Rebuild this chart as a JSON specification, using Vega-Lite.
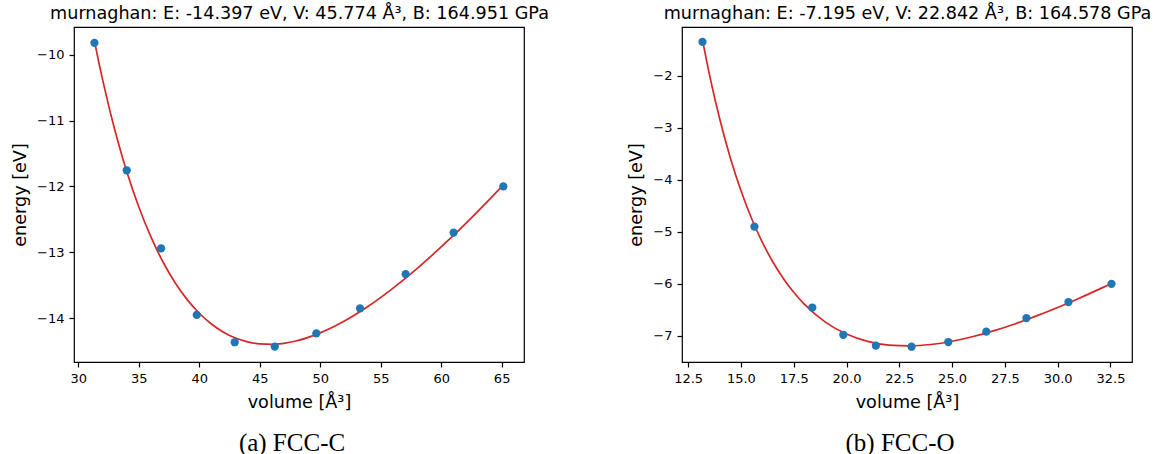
{
  "$schema": "https://vega.github.io/schema/vega-lite/v6.json",
  "padding": {"left": 10, "top": 3, "right": 5, "bottom": 0},
  "background": "white",
  "datasets": {
    "c_pts": [
      {"V": 31.33, "E": -9.82}, {"V": 34.0, "E": -11.755}, {"V": 36.84, "E": -12.94},
      {"V": 39.79, "E": -13.95}, {"V": 42.93, "E": -14.365}, {"V": 46.24, "E": -14.43},
      {"V": 49.68, "E": -14.23}, {"V": 53.29, "E": -13.85}, {"V": 57.06, "E": -13.33},
      {"V": 61.03, "E": -12.7}, {"V": 65.14, "E": -12.0}
    ],
    "c_fit": [
      {"V": 31.33, "E": -9.794}, {"V": 31.7, "E": -10.123}, {"V": 32.0, "E": -10.375},
      {"V": 32.5, "E": -10.769}, {"V": 33.0, "E": -11.131}, {"V": 33.5, "E": -11.465},
      {"V": 34.0, "E": -11.772}, {"V": 35.0, "E": -12.312}, {"V": 36.0, "E": -12.767},
      {"V": 37.0, "E": -13.147}, {"V": 38.0, "E": -13.461}, {"V": 39.0, "E": -13.718},
      {"V": 40.0, "E": -13.925}, {"V": 41.0, "E": -14.088}, {"V": 42.0, "E": -14.212},
      {"V": 43.0, "E": -14.301}, {"V": 44.0, "E": -14.359}, {"V": 45.0, "E": -14.39},
      {"V": 46.0, "E": -14.396}, {"V": 47.0, "E": -14.381}, {"V": 48.0, "E": -14.346},
      {"V": 50.0, "E": -14.223}, {"V": 52.0, "E": -14.043}, {"V": 54.0, "E": -13.815},
      {"V": 56.0, "E": -13.547}, {"V": 58.0, "E": -13.247}, {"V": 60.0, "E": -12.919},
      {"V": 62.0, "E": -12.568}, {"V": 64.0, "E": -12.196}, {"V": 65.14, "E": -11.977}
    ],
    "o_pts": [
      {"V": 13.18, "E": -1.347}, {"V": 15.64, "E": -4.9}, {"V": 18.38, "E": -6.456},
      {"V": 19.85, "E": -6.98}, {"V": 21.39, "E": -7.19}, {"V": 23.08, "E": -7.21},
      {"V": 24.82, "E": -7.12}, {"V": 26.62, "E": -6.92}, {"V": 28.52, "E": -6.66},
      {"V": 30.51, "E": -6.35}, {"V": 32.55, "E": -6.0}
    ],
    "o_fit": [
      {"V": 13.18, "E": -1.309}, {"V": 13.5, "E": -1.956}, {"V": 14.0, "E": -2.836},
      {"V": 14.5, "E": -3.578}, {"V": 15.0, "E": -4.206}, {"V": 15.5, "E": -4.738},
      {"V": 16.0, "E": -5.189}, {"V": 16.5, "E": -5.57}, {"V": 17.0, "E": -5.892},
      {"V": 17.5, "E": -6.163}, {"V": 18.0, "E": -6.391}, {"V": 19.0, "E": -6.736},
      {"V": 20.0, "E": -6.966}, {"V": 21.0, "E": -7.107}, {"V": 22.0, "E": -7.178},
      {"V": 23.0, "E": -7.194}, {"V": 24.0, "E": -7.167}, {"V": 25.0, "E": -7.105},
      {"V": 26.0, "E": -7.014}, {"V": 27.0, "E": -6.9}, {"V": 28.0, "E": -6.767},
      {"V": 29.0, "E": -6.617}, {"V": 30.0, "E": -6.455}, {"V": 31.0, "E": -6.281},
      {"V": 32.0, "E": -6.097}, {"V": 32.55, "E": -5.993}
    ]
  },
  "bounds": "flush",
  "spacing": 158,
  "hconcat": [
    {
      "width": 450,
      "height": 335,
      "title": {"text": "(a) FCC-C", "orient": "bottom", "anchor": "middle", "frame": "group", "dx": -7, "offset": 20},
      "resolve": {"scale": {"x": "independent"}, "axis": {"x": "independent"}},
      "layer": [
        {
          "data": {"name": "c_fit"},
          "mark": {"type": "line", "color": "#d62728", "strokeWidth": 1.7, "interpolate": "monotone"},
          "encoding": {
            "x": {"field": "V", "type": "quantitative",
                  "scale": {"domain": [29.64, 66.85], "nice": false, "zero": false},
                  "axis": {"title": "volume [Å³]", "values": [30, 35, 40, 45, 50, 55, 60, 65], "format": "d"}},
            "y": {"field": "E", "type": "quantitative",
                  "scale": {"domain": [-14.665, -9.58], "nice": false, "zero": false},
                  "axis": {"title": "energy [eV]", "values": [-14, -13, -12, -11, -10], "format": "d"}}
          }
        },
        {
          "data": {"name": "c_pts"},
          "mark": {"type": "point", "filled": true, "color": "#1f77b4", "opacity": 1, "size": 68},
          "encoding": {
            "x": {"field": "V", "type": "quantitative",
                  "scale": {"domain": [29.64, 66.85], "nice": false, "zero": false},
                  "axis": {"orient": "top", "title": "murnaghan: E: -14.397 eV, V: 45.774 Å³, B: 164.951 GPa", "labels": false, "ticks": false, "domain": false, "titlePadding": 5}},
            "y": {"field": "E", "type": "quantitative"}
          }
        }
      ]
    },
    {
      "width": 450,
      "height": 335,
      "title": {"text": "(b) FCC-O", "orient": "bottom", "anchor": "middle", "frame": "group", "dx": -7, "offset": 20},
      "resolve": {"scale": {"x": "independent"}, "axis": {"x": "independent"}},
      "layer": [
        {
          "data": {"name": "o_fit"},
          "mark": {"type": "line", "color": "#d62728", "strokeWidth": 1.7, "interpolate": "monotone"},
          "encoding": {
            "x": {"field": "V", "type": "quantitative",
                  "scale": {"domain": [12.21, 33.52], "nice": false, "zero": false},
                  "axis": {"title": "volume [Å³]", "values": [12.5, 15, 17.5, 20, 22.5, 25, 27.5, 30, 32.5], "format": ".1f"}},
            "y": {"field": "E", "type": "quantitative",
                  "scale": {"domain": [-7.504, -1.06], "nice": false, "zero": false},
                  "axis": {"title": "energy [eV]", "values": [-7, -6, -5, -4, -3, -2], "format": "d"}}
          }
        },
        {
          "data": {"name": "o_pts"},
          "mark": {"type": "point", "filled": true, "color": "#1f77b4", "opacity": 1, "size": 68},
          "encoding": {
            "x": {"field": "V", "type": "quantitative",
                  "scale": {"domain": [12.21, 33.52], "nice": false, "zero": false},
                  "axis": {"orient": "top", "title": "murnaghan: E: -7.195 eV, V: 22.842 Å³, B: 164.578 GPa", "labels": false, "ticks": false, "domain": false, "titlePadding": 5}},
            "y": {"field": "E", "type": "quantitative"}
          }
        }
      ]
    }
  ],
  "config": {
    "view": {"stroke": "#000", "strokeWidth": 1.2},
    "axis": {
      "domain": false, "grid": false,
      "ticks": true, "tickColor": "#000", "tickSize": 5, "tickWidth": 1.2,
      "labelFont": "DejaVu Sans", "labelFontSize": 13, "labelColor": "#000", "labelPadding": 5,
      "titleFont": "DejaVu Sans", "titleFontSize": 17.6, "titleFontWeight": "normal", "titleColor": "#000"
    },
    "axisY": {"titlePadding": 7},
    "axisX": {"titlePadding": 8},
    "title": {"font": "Liberation Serif", "fontSize": 25, "fontWeight": "normal", "color": "#000"}
  }
}
